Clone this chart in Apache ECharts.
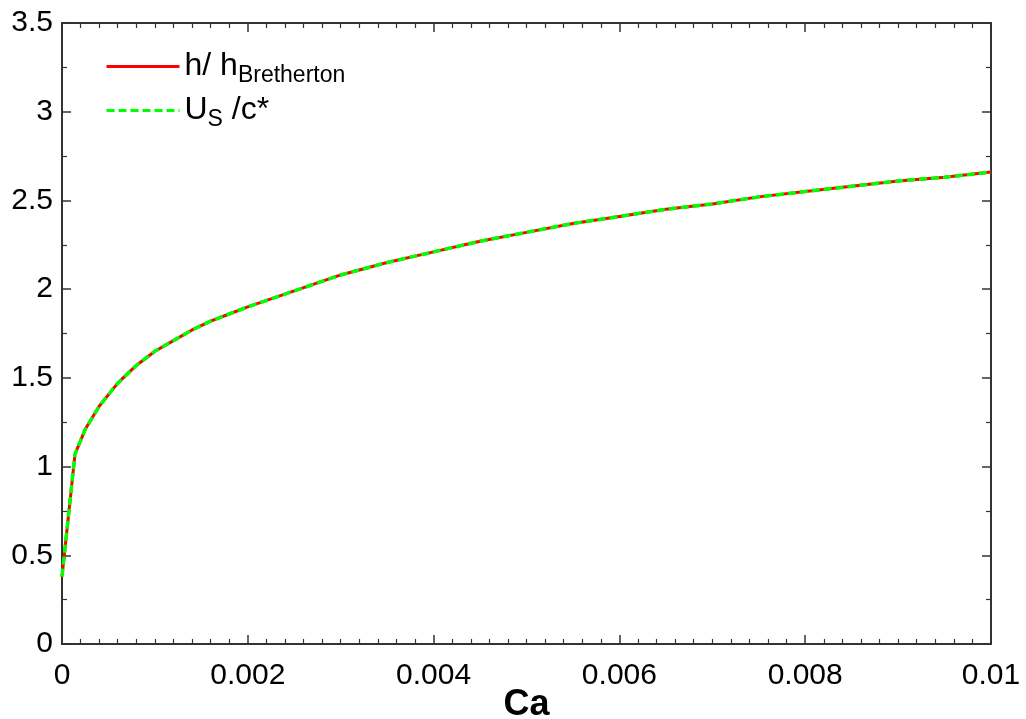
<!DOCTYPE html>
<html>
<head>
<meta charset="utf-8">
<script src="https://cdn.jsdelivr.net/npm/echarts@6/dist/echarts.min.js"></script>
<style>
html, body { margin: 0; padding: 0; background: #fff; }
#main { width: 1026px; height: 719px; }
</style>
</head>
<body>
<div id="main"></div>
<script>
// values
var ca = [0, 0.00014, 0.00025, 0.0004, 0.0006, 0.0008, 0.001, 0.0012, 0.0014, 0.0016, 0.0018,
          0.002, 0.0025, 0.003, 0.0035, 0.004, 0.0045, 0.005, 0.0055, 0.006, 0.0065,
          0.007, 0.0075, 0.008, 0.0085, 0.009, 0.0095, 0.01];
var hRatio = [0.38, 1.07, 1.21, 1.34, 1.47, 1.57, 1.65, 1.71, 1.77, 1.82, 1.86,
              1.90, 1.99, 2.08, 2.15, 2.21, 2.27, 2.32, 2.37, 2.41, 2.45,
              2.48, 2.52, 2.55, 2.58, 2.61, 2.63, 2.66];
var usRatio = [0.38, 1.07, 1.21, 1.34, 1.47, 1.57, 1.65, 1.71, 1.77, 1.82, 1.86,
               1.90, 1.99, 2.08, 2.15, 2.21, 2.27, 2.32, 2.37, 2.41, 2.45,
               2.48, 2.52, 2.55, 2.58, 2.61, 2.63, 2.66];
var seriesNames = ['h/ hBretherton', 'US /c*'];

var font = '"Liberation Sans", Arial, sans-serif';
var axisColor = '#333';

function pairs(xs, ys) {
	var out = [];
	for (var i = 0; i < xs.length; i++) out.push([xs[i], ys[i]]);
	return out;
}

function xAxisCfg(pos, labels) {
	return {
		type: 'value',
		position: pos,
		min: 0, max: 0.01, interval: 0.002,
		axisLine: { show: true, onZero: false, lineStyle: { color: axisColor, width: 2 } },
		axisTick: { show: true, inside: true, length: 9, lineStyle: { color: axisColor, width: 1.5 } },
		minorTick: { show: true, splitNumber: 10, length: 5, lineStyle: { color: axisColor, width: 1.2 } },
		splitLine: { show: false },
		axisLabel: { show: labels, margin: 17, color: '#000', fontSize: 30, fontFamily: font },
		name: labels ? 'Ca' : '',
		nameLocation: 'middle',
		nameGap: 43,
		nameMoveOverlap: false,
		nameTextStyle: { color: '#000', fontSize: 36, fontWeight: 'bold', fontFamily: font }
	};
}

function yAxisCfg(pos, labels) {
	return {
		type: 'value',
		position: pos,
		min: 0, max: 3.5, interval: 0.5,
		axisLine: { show: true, onZero: false, lineStyle: { color: axisColor, width: 2 } },
		axisTick: { show: true, inside: true, length: 9, lineStyle: { color: axisColor, width: 1.5 } },
		minorTick: { show: true, splitNumber: 2, length: 5, lineStyle: { color: axisColor, width: 1.2 } },
		splitLine: { show: false },
		axisLabel: { show: labels, margin: 9, color: '#000', fontSize: 30, fontFamily: font }
	};
}

var chart = echarts.init(document.getElementById('main'));
chart.setOption({
	backgroundColor: '#fff',
	animation: false,
	grid: { left: 62, right: 35, top: 23, bottom: 75, outerBoundsMode: 'none', containLabel: false },
	legend: {
		orient: 'vertical',
		left: 105, top: 46,
		padding: 0,
		itemWidth: 73, itemHeight: 14, itemGap: 3,
		data: seriesNames,
		itemStyle: { color: 'transparent', borderWidth: 0, opacity: 0 },
		lineStyle: { width: 3 },
		formatter: function(name) {
			if (name === seriesNames[0]) return '{a|h/ h}{b|Bretherton}';
			return '{a|U}{b|S}{a| /c*}';
		},
		textStyle: {
			color: '#000',
			rich: {
				a: { fontSize: 32, fontFamily: font, color: '#000', lineHeight: 44, verticalAlign: 'middle' },
				b: { fontSize: 23, fontFamily: font, color: '#000', lineHeight: 26, padding: [18, 0, 0, 0], verticalAlign: 'middle' }
			}
		}
	},
	xAxis: [xAxisCfg('bottom', true), xAxisCfg('top', false)],
	yAxis: [yAxisCfg('left', true), yAxisCfg('right', false)],
	series: [
		{
			name: seriesNames[0],
			type: 'line',
			symbol: 'none',
			lineStyle: { color: '#ff0000', width: 3 },
			itemStyle: { color: '#ff0000' },
			data: pairs(ca, hRatio)
		},
		{
			name: seriesNames[1],
			type: 'line',
			symbol: 'none',
			lineStyle: { color: '#00ff00', width: 3.5, type: [8, 4] },
			itemStyle: { color: '#00ff00' },
			data: pairs(ca, usRatio)
		}
	]
});
</script>
</body>
</html>
